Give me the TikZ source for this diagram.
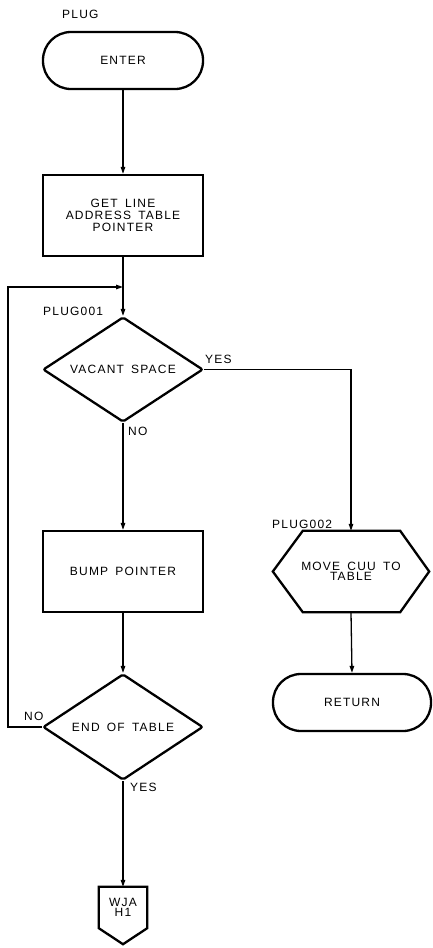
\documentclass[tikz,border=0pt]{standalone}
\usepackage{fontspec}
\setmainfont{Liberation Sans}[LetterSpace=10,WordSpace=1.6]
\usetikzlibrary{shapes.geometric,arrows.meta,calc}
\tikzset{
  txt/.style={font=\fontsize{12}{11.7}\selectfont, align=center},
  procbox/.style={txt, draw, line width=2.3pt, minimum width=160pt, minimum height=81pt, inner sep=0pt},
  termbox/.style={txt, draw, line width=2.3pt, rounded corners=28pt, minimum height=57pt, inner sep=0pt},
  decbox/.style={txt, draw, diamond, aspect=1.5, line width=2.3pt, minimum width=160pt, minimum height=105pt, inner sep=0pt, rounded corners=2pt},
  ghost/.style={txt, inner sep=0pt},
  outl/.style={line width=2.3pt, line join=miter},
  conn/.style={line width=1.3pt, -{Triangle[length=7pt,width=4.5pt]}},
  lbl/.style={font=\fontsize{12}{12}\selectfont, inner sep=0pt}
}
\begin{document}
\begin{tikzpicture}[x=1pt,y=-1pt]
\useasboundingbox (0,0) rectangle (432,948);

% labels
\node[lbl, anchor=base west] (lplug) at (62,18) {PLUG};
\node[lbl, anchor=base west] (lp1) at (43,315) {PLUG001};
\node[lbl, anchor=base west] (ly1) at (205,363) {YES};
\node[lbl, anchor=base west] (ln1) at (128,435) {NO};
\node[lbl, anchor=base west] (ln2) at (24,720) {NO};
\node[lbl, anchor=base west] (ly2) at (130,791) {YES};

% main column
\node[termbox, minimum width=160pt] (enter) at (123,60.5) {ENTER};
\node[procbox] (getline) at (123,215.5) {GET LINE\\ADDRESS TABLE\\POINTER};
\node[decbox] (vac) at (123,369.5) {VACANT SPACE};
\node[procbox] (bump) at (123,571.5) {BUMP POINTER};
\node[decbox, minimum height=106pt] (endt) at (123,727) {END OF TABLE};

% off-page connector
\node[ghost, minimum width=48pt, minimum height=41pt, font=\fontsize{12}{10.5}\selectfont] (wja) at (123,907.5) {WJA\\H1};
\draw[outl] (wja.north west) -- (wja.north east) -- (wja.south east) -- ($(wja.south)+(0,16)$) -- (wja.south west) -- cycle;

% right column
\node[ghost, minimum width=156pt, minimum height=81pt, font=\fontsize{12}{10.5}\selectfont] (mv) at (351,571.5) {MOVE CUU TO\\TABLE};
\draw[outl] (mv.west) -- ($(mv.north west)+(30,0)$) -- ($(mv.north east)+(-29,0)$) -- (mv.east)
  -- ($(mv.south east)+(-29,0)$) -- ($(mv.south west)+(30,0)$) -- cycle;
\node[lbl, anchor=base west] (lp2) at (272,528) {PLUG002};
\node[termbox, minimum width=158pt] (ret) at (352,702.5) {RETURN};

% connectors
\coordinate (join) at (123,287);
\coordinate (lx) at (8,287);
\draw[conn] (enter.south) -- (getline.north);
\draw[conn] (getline.south) -- (vac.north);
\draw[conn] (vac.south) -- (bump.north);
\draw[conn] (bump.south) -- (endt.north);
\draw[conn] (endt.south) -- (wja.north);
\draw[conn] (endt.west) -| (lx) -- (join);
\draw[conn] (vac.east) -| (mv.north);
\draw[conn] (mv.south) -- (ret.north);
\end{tikzpicture}
\end{document}
